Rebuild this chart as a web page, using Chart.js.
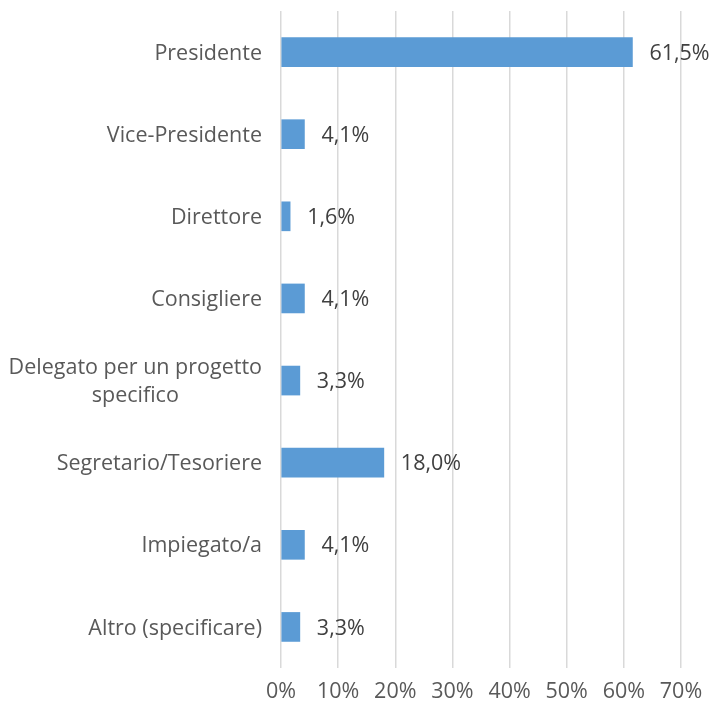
<!DOCTYPE html>
<html>
<head>
<meta charset="utf-8">
<script src="https://cdn.jsdelivr.net/npm/chart.js@4/dist/chart.umd.min.js"></script>
<style>
  html, body { margin: 0; padding: 0; background: #fff; }
  #wrap { width: 714px; height: 713px; }
</style>
</head>
<body>
<div id="wrap"><canvas id="chartCanvas"></canvas></div>
<script>
// categorie (una riga per ogni riga del grafico)
const categories = [
  ["Presidente"],
  ["Vice-Presidente"],
  ["Direttore"],
  ["Consigliere"],
  ["Delegato per un progetto", "specifico"],
  ["Segretario/Tesoriere"],
  ["Impiegato/a"],
  ["Altro (specificare)"]
];
const percentuali = [61.5, 4.1, 1.6, 4.1, 3.3, 18.0, 4.1, 3.3];
const xTicks = [0, 10, 20, 30, 40, 50, 60, 70];

const FONT = "'Open Sans', 'Liberation Sans', sans-serif";

function fmt(v) {
  return v.toFixed(1).replace(".", ",") + "%";
}

// etichette categoria + etichette valore disegnate a mano
const labelsPlugin = {
  id: "labelsPlugin",
  afterDatasetsDraw(chart) {
    const ctx = chart.ctx;
    const yScale = chart.scales.y;
    const xScale = chart.scales.x;
    const area = chart.chartArea;
    ctx.save();
    ctx.font = "21.5px " + FONT;
    ctx.textBaseline = "middle";

    // categorie a sinistra
    ctx.fillStyle = "#595959";
    categories.forEach((lines, i) => {
      const cy = yScale.getPixelForValue(i) + 1.5;
      const widths = lines.map((l) => ctx.measureText(l).width);
      const maxW = Math.max(...widths);
      const right = area.left - 19;
      const lh = 28;
      const top = cy - ((lines.length - 1) * lh) / 2;
      ctx.textAlign = "center";
      lines.forEach((l, j) => {
        ctx.fillText(l, right - maxW / 2, top + j * lh);
      });
    });

    // valori a destra delle barre
    ctx.fillStyle = "#404040";
    ctx.textAlign = "left";
    percentuali.forEach((v, i) => {
      const x = xScale.getPixelForValue(v) + 17;
      const y = yScale.getPixelForValue(i) + 1.5;
      ctx.fillText(fmt(v), x, y);
    });
    ctx.restore();
  }
};

const ctx = document.getElementById("chartCanvas").getContext("2d");
new Chart(ctx, {
  type: "bar",
  data: {
    labels: categories.map((c) => c.join(" ")),
    datasets: [
      {
        data: percentuali,
        backgroundColor: "#5b9bd5",
        borderWidth: 0,
        barThickness: 29
      }
    ]
  },
  options: {
    indexAxis: "y",
    responsive: true,
    maintainAspectRatio: false,
    animation: false,
    layout: { padding: { top: 11, right: 33, left: 0, bottom: 0 } },
    plugins: {
      legend: { display: false },
      tooltip: { enabled: false }
    },
    scales: {
      x: {
        min: 0,
        max: 70,
        afterBuildTicks: (scale) => {
          scale.ticks = xTicks.map((v) => ({ value: v }));
        },
        afterFit: (scale) => {
          scale.height = 45;
        },
        grid: {
          color: "#d9d9d9",
          lineWidth: 1.5,
          drawTicks: false
        },
        border: { display: false },
        ticks: {
          padding: 11,
          color: "#595959",
          font: { family: FONT, size: 21.5 },
          callback: (v) => v + "%"
        }
      },
      y: {
        grid: { display: false },
        border: { display: false },
        ticks: { display: false },
        afterFit: (scale) => {
          scale.width = 281;
        }
      }
    }
  },
  plugins: [labelsPlugin]
});
</script>
</body>
</html>
